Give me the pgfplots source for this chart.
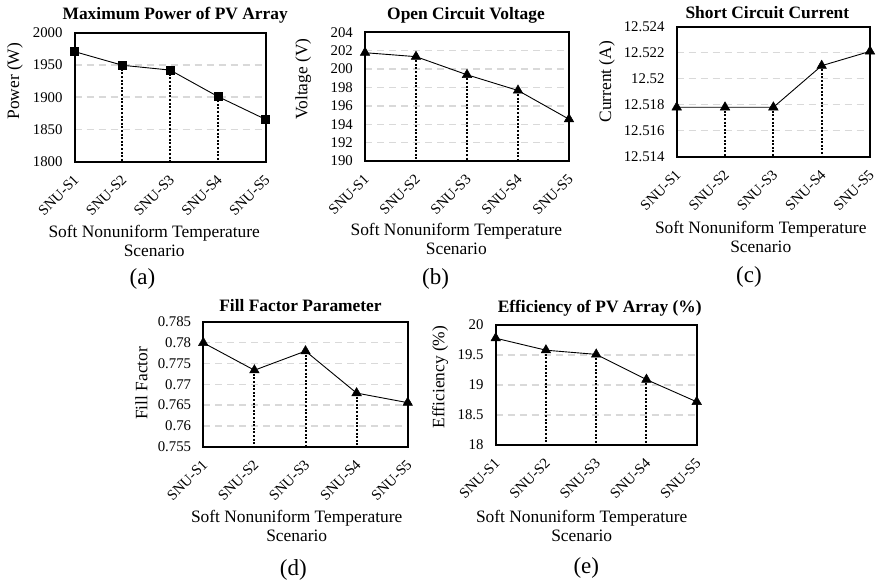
\documentclass[border=0pt]{standalone}
\usepackage{fontspec}
\setmainfont{Liberation Serif}
\usepackage{pgfplots}
\pgfplotsset{compat=1.18}
\definecolor{gridgray}{RGB}{217,217,217}
\pgfplotsset{
  pv/.style={
    scale only axis,
    anchor=south west,
    xmin=0, xmax=4,
    xtick={0,1,2,3,4},
    xticklabels={SNU-S1,SNU-S2,SNU-S3,SNU-S4,SNU-S5},
    major tick length=0pt,
    axis line style={line width=2bp, black},
    ymajorgrids,
    grid style={gridgray, line width=1.4bp, dash pattern=on 7bp off 5bp},
    tick label style={font=\fontsize{14.8bp}{16bp}\selectfont},
    xticklabel style={rotate=45, anchor=north east, inner sep=0pt, xshift=-9.9bp, yshift=-7.1bp},
    yticklabel style={inner sep=0pt, xshift=-12bp, anchor=east},
    xlabel={Soft Nonuniform Temperature\\Scenario},
    xlabel style={font=\fontsize{17.4bp}{19bp}\selectfont, align=center, anchor=north, inner sep=0pt},
    ylabel style={font=\fontsize{17.4bp}{19bp}\selectfont, anchor=center, inner sep=0pt},
    title style={font=\bfseries\fontsize{17.4bp}{19bp}\selectfont, anchor=center, inner sep=0pt},
  },
  lpos/.style n args={6}{
    ylabel style={at={([xshift=-#1bp,yshift=#2bp]axis description cs:0,0.5)}},
    title style={at={([xshift=#3bp,yshift=#4bp-6pt]axis description cs:0.5,1)}, anchor=center},
    xlabel style={at={([xshift=#5bp,yshift=-#6bp]axis description cs:0.5,0)}},
  },
  pvline/.style={black, line width=0.9bp, mark options={fill=black, draw=black, line width=0.5bp},
    error bars/.cd, y dir=minus, y explicit, error mark=none,
    error bar style={black, line width=2bp, dash pattern=on 2bp off 1.6bp}},
}
\begin{document}
\begin{tikzpicture}
\useasboundingbox (0,0) rectangle (876bp,582bp);
% (a)
\begin{axis}[pv, at={(74.7bp,420.3bp)}, width=191bp, height=129bp,
  ymin=1800, ymax=2000, ytick={1800,1850,1900,1950,2000},
  yticklabels={1800,1850,1900,1950,2000},
  title={Maximum Power of PV Array}, ylabel={Power (W)},
  lpos={59.7}{16}{5}{17.7}{-16}{63}]
\addplot[mark=square*, mark size=4bp, pvline] table[x=x, y=y, y error expr=\thisrow{y}-1800] {
x y
0 1970.6
1 1949.5
2 1942
3 1901
4 1865.5
};
\end{axis}
% (b)
\begin{axis}[pv, at={(365bp,421bp)}, width=204bp, height=128.7bp,
  ymin=190, ymax=204, ytick={190,192,194,196,198,200,202,204},
  yticklabels={190,192,194,196,198,200,202,204},
  title={Open Circuit Voltage}, ylabel={Voltage (V)},
  lpos={61.7}{17.5}{-1}{17.3}{-10.7}{62}]
\addplot[mark=triangle*, mark size=5.5bp, pvline] table[x=x, y=y, y error expr=\thisrow{y}-190] {
x y
0 201.78
1 201.35
2 199.38
3 197.67
4 194.55
};
\end{axis}
% (c)
\begin{axis}[pv, at={(676.7bp,425.3bp)}, width=193.3bp, height=130bp,
  ymin=12.514, ymax=12.524, ytick={12.514,12.516,12.518,12.52,12.522,12.524},
  yticklabels={12.514,12.516,12.518,12.52,12.522,12.524},
  title={Short Circuit Current}, ylabel={Current (A)},
  lpos={69.7}{10}{-6}{14}{-12.6}{64}]
\addplot[mark=triangle*, mark size=5.5bp, pvline] table[x=x, y=y, y error expr=\thisrow{y}-12.514] {
x y
0 12.5178
1 12.5178
2 12.5178
3 12.5210
4 12.5221
};
\end{axis}
% (d)
\begin{axis}[pv, at={(203.3bp,135.3bp)}, width=204.4bp, height=124.7bp,
  ymin=0.755, ymax=0.785, ytick={0.755,0.76,0.765,0.77,0.775,0.78,0.785},
  yticklabels={0.755,0.76,0.765,0.77,0.775,0.78,0.785},
  title={Fill Factor Parameter}, ylabel={Fill Factor},
  lpos={62}{1}{-5}{16.3}{-8.8}{63}]
\addplot[mark=triangle*, mark size=5.5bp, pvline] table[x=x, y=y, y error expr=\thisrow{y}-0.755] {
x y
0 0.7800
1 0.7734
2 0.7780
3 0.7679
4 0.7656
};
\end{axis}
% (e)
\begin{axis}[pv, at={(495.7bp,137bp)}, width=201bp, height=120bp,
  ymin=18, ymax=20, ytick={18,18.5,19,19.5,20},
  yticklabels={18,18.5,19,19.5,20},
  title={Efficiency of PV Array (\%)}, ylabel={Efficiency (\%)},
  lpos={55.7}{8}{3.5}{16.7}{-14.5}{65}]
\addplot[mark=triangle*, mark size=5.5bp, pvline] table[x=x, y=y, y error expr=\thisrow{y}-18] {
x y
0 19.78
1 19.58
2 19.51
3 19.09
4 18.72
};
\end{axis}
\node[font=\fontsize{23bp}{26bp}\selectfont] at (142.5bp,303bp) {(a)};
\node[font=\fontsize{23bp}{26bp}\selectfont] at (435.5bp,303bp) {(b)};
\node[font=\fontsize{23bp}{26bp}\selectfont] at (749bp,305.3bp) {(c)};
\node[font=\fontsize{23bp}{26bp}\selectfont] at (293.3bp,12bp) {(d)};
\node[font=\fontsize{23bp}{26bp}\selectfont] at (586.3bp,14bp) {(e)};
\end{tikzpicture}
\end{document}
